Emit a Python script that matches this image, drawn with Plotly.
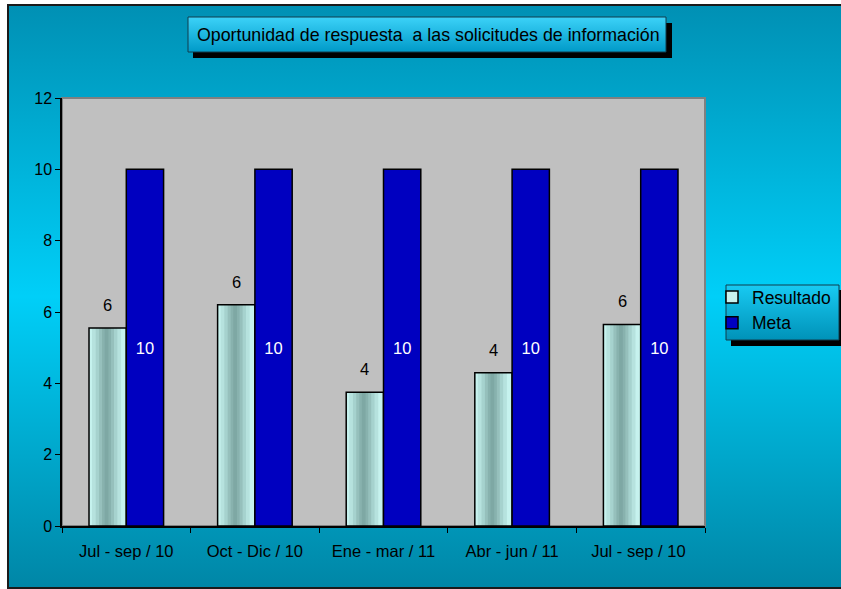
import base64
import plotly.graph_objects as go

categories = ["Jul - sep / 10", "Oct - Dic / 10", "Ene - mar / 11", "Abr - jun / 11", "Jul - sep / 10 "]
resultado = [5.55, 6.2, 3.75, 4.3, 5.65]
meta = [10, 10, 10, 10, 10]

W, H = 841, 589
ML, MR, MT, MB = 62, 136, 98, 63
PW, PH = W - ML - MR, H - MT - MB
FONT = "Liberation Sans, Arial"


def px(x):
    return (x - ML) / PW


def py(y):
    return (H - MB - y) / PH


def svg_grad(stops, vertical=True):
    x2, y2 = ("0", "1") if vertical else ("1", "0")
    st = "".join(f'<stop offset="{o}" stop-color="{c}"/>' for o, c in stops)
    svg = (f'<svg xmlns="http://www.w3.org/2000/svg" width="100" height="100" '
           f'viewBox="0 0 100 100" preserveAspectRatio="none"><defs>'
           f'<linearGradient id="g" x1="0" y1="0" x2="{x2}" y2="{y2}">{st}</linearGradient>'
           f'</defs><rect x="0" y="0" width="100" height="100" fill="url(#g)"/></svg>')
    return "data:image/svg+xml;base64," + base64.b64encode(svg.encode()).decode()


def img(src, x0, y0, x1, y1):
    return dict(source=src, xref="paper", yref="paper", x=px(x0), y=py(y0),
                sizex=(x1 - x0) / PW, sizey=(y1 - y0) / PH, xanchor="left",
                yanchor="top", sizing="stretch", layer="below")


BW = 0.29  # bar width in category units
CAT_PX = PW / len(categories)

fig = go.Figure()

# Resultado: base bar plus narrower layers to emulate the cylinder-like shading
fig.add_trace(go.Bar(x=categories, y=resultado, name="Resultado", offset=-BW, width=BW,
                     marker=dict(color="#C6F2EE", line=dict(width=0)),
                     showlegend=False, hoverinfo="skip"))
layers = [(0.78, "#B6E2DE"), (0.58, "#A6D2CE"), (0.40, "#96C0BC"), (0.24, "#88B2AE"), (0.10, "#7EA8A4")]
center = -BW + 0.47 * BW
for frac, col in layers:
    w = BW * frac
    fig.add_trace(go.Bar(x=categories, y=resultado, offset=center - w / 2, width=w,
                         marker=dict(color=col, line=dict(width=0)),
                         showlegend=False, hoverinfo="skip"))
fig.add_trace(go.Bar(x=categories, y=resultado, name="Resultado", offset=-BW, width=BW,
                     marker=dict(color="rgba(0,0,0,0)", line=dict(color="black", width=1.5)),
                     showlegend=False))
# legend proxy for Resultado
fig.add_trace(go.Bar(x=categories, y=[None] * len(categories), name="Resultado",
                     marker=dict(color="#C6F2EE", line=dict(color="black", width=1.5))))
fig.add_trace(go.Bar(x=categories, y=meta, name="Meta", offset=0, width=BW,
                     marker=dict(color="#0000C0", line=dict(color="black", width=1.5)),
                     texttemplate="%{y}", textposition="inside", insidetextanchor="middle",
                     textfont=dict(size=16.5, color="white", family=FONT),
                     textangle=0))

# value labels for Resultado (rounded), placed from the data
label_ann = [dict(x=c, y=v, xref="x", yref="y", text=f"{v:.0f}", showarrow=False,
                  xanchor="center", yanchor="middle", xshift=-BW / 2 * CAT_PX, yshift=23,
                  font=dict(size=16.5, color="black", family=FONT))
             for c, v in zip(categories, resultado)]

images = [
    img(svg_grad([(0, "#0090B4"), (0.5, "#00CFF8"), (1, "#0086A6")]), 8, 5, 846, 588),
    img(svg_grad([(0, "#000000"), (1, "#000000")]), 193, 23, 672, 58),
    img(svg_grad([(0, "#3CD2F8"), (1, "#009AC8")]), 188, 17, 666, 52),
    img(svg_grad([(0, "#000000"), (1, "#000000")]), 731, 290, 844, 346),
    img(svg_grad([(0, "#18CAF2"), (1, "#0092B8")]), 726, 285, 839, 340),
]

shapes = [
    dict(type="rect", xref="paper", yref="paper", x0=0, x1=1, y0=0, y1=1,
         fillcolor="#C0C0C0", line=dict(color="#808080", width=2), layer="below"),
    dict(type="rect", xref="paper", yref="paper", x0=px(8), x1=px(846), y0=py(588), y1=py(5),
         fillcolor="rgba(0,0,0,0)", line=dict(color="#1A1A1A", width=2), layer="below"),
    dict(type="rect", xref="paper", yref="paper", x0=px(188), x1=px(666), y0=py(52), y1=py(17),
         fillcolor="rgba(0,0,0,0)", line=dict(color="#103C4C", width=1), layer="below"),
    dict(type="rect", xref="paper", yref="paper", x0=px(726), x1=px(839), y0=py(340), y1=py(285),
         fillcolor="rgba(0,0,0,0)", line=dict(color="#103C4C", width=1), layer="below"),
]

fig.update_layout(
    width=W, height=H,
    margin=dict(l=ML, r=MR, t=MT, b=MB, pad=0, autoexpand=False),
    paper_bgcolor="white", plot_bgcolor="rgba(0,0,0,0)",
    barmode="overlay",
    font=dict(family=FONT, size=16, color="black"),
    images=images, shapes=shapes,
    annotations=[dict(text="Oportunidad de respuesta  a las solicitudes de información",
                      xref="paper", yref="paper", x=px(428), y=py(35), showarrow=False,
                      xanchor="center", yanchor="middle",
                      font=dict(size=17.8, color="black", family=FONT))] + label_ann,
    legend=dict(x=px(712), y=py(279), xanchor="left", yanchor="top",
                bgcolor="rgba(0,0,0,0)", borderwidth=0,
                font=dict(size=17.5, color="black"), traceorder="normal"),
    showlegend=True,
)
fig.update_xaxes(showline=True, linecolor="black", linewidth=1.5, ticks="outside",
                 tickson="boundaries", ticklen=5, tickcolor="black", showgrid=False,
                 ticklabelstandoff=9, tickfont=dict(size=16.5), fixedrange=True,
                 automargin=False)
fig.update_yaxes(range=[0, 12], dtick=2, showline=True, linecolor="black", linewidth=1.5,
                 ticks="outside", ticklen=5, tickcolor="black", showgrid=False,
                 zeroline=False, tickfont=dict(size=16), fixedrange=True, automargin=False)

fig.write_html("out.html")
